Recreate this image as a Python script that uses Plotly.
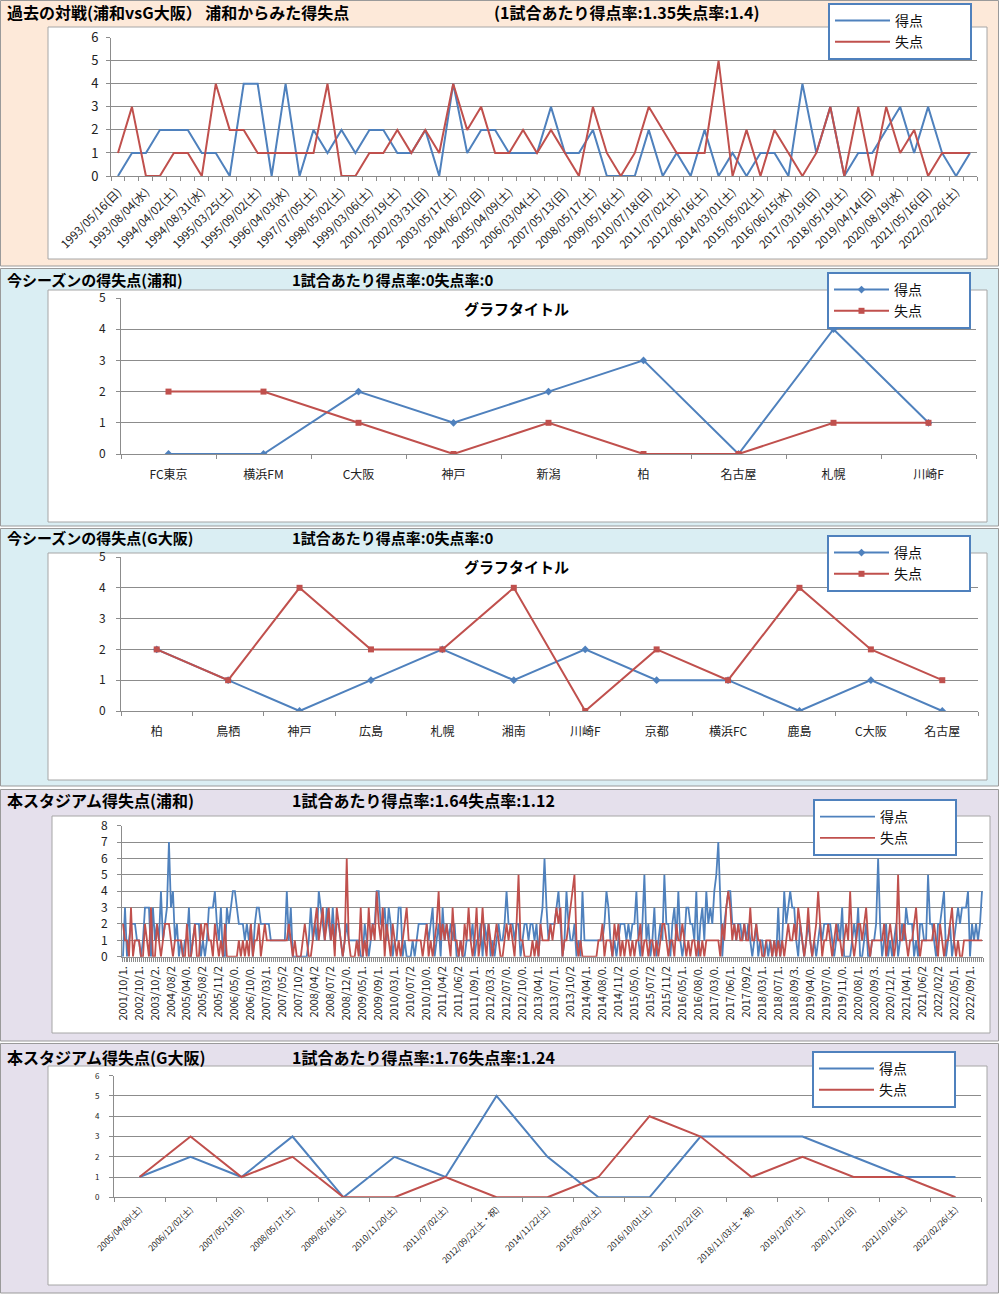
import plotly.graph_objects as go

FONT = "Noto Sans CJK JP"
BLUE = "#4F81BD"
RED = "#C0504D"
GRID = "#8C8C8C"
W, H = 1000, 1295

# ---------------- Panel 1: past matches (Urawa vs G-Osaka) ----------------
p1_labels = ["1993/05/16(日)", "1993/08/04(水)", "1994/04/02(土)", "1994/08/31(水)", "1995/03/25(土)",
             "1995/09/02(土)", "1996/04/03(水)", "1997/07/05(土)", "1998/05/02(土)", "1999/03/06(土)",
             "2001/05/19(土)", "2002/03/31(日)", "2003/05/17(土)", "2004/06/20(日)", "2005/04/09(土)",
             "2006/03/04(土)", "2007/05/13(日)", "2008/05/17(土)", "2009/05/16(土)", "2010/07/18(日)",
             "2011/07/02(土)", "2012/06/16(土)", "2014/03/01(土)", "2015/05/02(土)", "2016/06/15(水)",
             "2017/03/19(日)", "2018/05/19(土)", "2019/04/14(日)", "2020/08/19(水)", "2021/05/16(日)",
             "2022/02/26(土)"]
p1_scored = [0, 1, 1, 2, 2, 2, 1, 1, 0, 4, 4, 0, 4, 0, 2, 1, 2, 1, 2, 2, 1, 1, 2, 0, 4, 1, 2, 2,
             1, 1, 1, 3, 1, 1, 2, 0, 0, 0, 2, 0, 1, 0, 2, 0, 1, 0, 1, 1, 0, 4, 1, 3, 0, 1, 1, 2, 3, 1, 3, 1, 0, 1]
p1_conceded = [1, 3, 0, 0, 1, 1, 0, 4, 2, 2, 1, 1, 1, 1, 1, 4, 0, 0, 1, 1, 2, 1, 2, 1, 4, 2, 3, 1,
               1, 2, 1, 2, 1, 0, 3, 1, 0, 1, 3, 2, 1, 1, 1, 5, 0, 2, 0, 2, 1, 0, 1, 3, 0, 3, 0, 3, 1, 2, 0, 1, 1, 1]

# ---------------- Panel 2: this season (Urawa) ----------------
p2_teams = ["FC東京", "横浜FM", "C大阪", "神戸", "新潟", "柏", "名古屋", "札幌", "川崎F"]
p2_scored = [0, 0, 2, 1, 2, 3, 0, 4, 1]
p2_conceded = [2, 2, 1, 0, 1, 0, 0, 1, 1]

# ---------------- Panel 3: this season (G-Osaka) ----------------
p3_teams = ["柏", "鳥栖", "神戸", "広島", "札幌", "湘南", "川崎F", "京都", "横浜FC", "鹿島", "C大阪", "名古屋"]
p3_scored = [2, 1, 0, 1, 2, 1, 2, 1, 1, 0, 1, 0]
p3_conceded = [2, 1, 4, 2, 2, 4, 0, 2, 1, 4, 2, 1]

# ---------------- Panel 4: this stadium (Urawa) ----------------
p4_labels = ["2001/10/1.", "2002/10/1.", "2003/10/2.", "2004/08/2", "2005/04/0.", "2005/08/2", "2005/11/2",
             "2006/05/0.", "2006/10/0.", "2007/03/1.", "2007/05/2", "2007/10/2", "2008/04/2", "2008/07/2",
             "2008/12/0.", "2009/05/1.", "2009/09/1.", "2010/03/1.", "2010/07/2", "2010/10/0.", "2011/04/2",
             "2011/06/2", "2011/09/1.", "2012/03/3.", "2012/07/0.", "2012/10/0.", "2013/04/1.", "2013/07/1.",
             "2013/10/2", "2014/04/1.", "2014/08/0.", "2014/11/2", "2015/05/0.", "2015/07/2", "2015/11/2",
             "2016/05/1.", "2016/08/0.", "2017/03/0.", "2017/06/1.", "2017/09/2", "2018/03/1.", "2018/07/1.",
             "2018/09/3.", "2019/04/0.", "2019/07/0.", "2019/11/0.", "2020/08/1.", "2020/09/3.", "2020/12/1.",
             "2021/04/1.", "2021/06/2", "2022/02/2", "2022/05/1.", "2022/09/1."]
p4_label_step = 8
p4_scored = [
    0, 3, 0, 1, 2, 2, 2, 1, 1, 0, 1, 3, 3, 3, 0, 3, 1, 2, 1, 4, 1, 2, 3, 7, 3, 4, 1, 2, 0, 1,
    0, 1, 1, 3, 0, 1, 2, 2, 2, 0, 1, 0, 1, 3, 3, 3, 4, 2, 1, 3, 0, 0, 3, 2, 3, 4, 4, 3, 2, 2,
    2, 1, 2, 1, 2, 0, 2, 3, 3, 2, 2, 2, 2, 2, 1, 1, 1, 1, 1, 1, 1, 1, 4, 1, 3, 0, 0, 0, 0, 0,
    0, 0, 0, 1, 3, 1, 2, 1, 4, 3, 2, 1, 3, 2, 1, 3, 1, 2,
    2, 1, 0, 1, 2, 1, 1, 1, 1, 1, 1, 0, 0, 2, 1, 0, 1, 2, 2, 4, 4, 2, 2, 3, 1, 3, 2, 0, 1, 1,
    3, 3, 0, 1, 0, 0, 0, 1, 0, 1, 2, 2, 2, 2, 2, 1, 2, 3, 0, 1, 2, 0, 3, 1, 2, 1, 2, 1, 2, 0,
    0, 1, 0, 0, 1, 1, 1, 2, 0, 1, 1, 2, 0, 2, 1, 2, 0, 1, 0, 1, 2, 1, 1, 2, 4, 2, 2, 2, 1, 2,
    2, 0, 1, 2, 2, 1, 2, 2, 1, 2, 0, 2, 3, 6, 3, 1, 2, 2,
    2, 3, 4, 2, 0, 1, 4, 2, 1, 1, 2, 0, 1, 0, 4, 1, 1, 1, 1, 1, 1, 1, 1, 1, 1, 2, 4, 3, 1, 0,
    1, 0, 1, 2, 2, 2, 1, 2, 1, 2, 2, 4, 1, 0, 2, 5, 1, 2, 0, 1, 3, 0, 1, 2, 1, 5, 2, 2, 0, 2,
    3, 1, 4, 1, 0, 1, 3, 3, 2, 2, 1, 4, 0, 2, 3, 1, 4, 2, 3, 2, 4, 5, 7, 3, 0, 2, 3, 4, 4, 2,
    2, 1, 2, 2, 1, 2, 1, 2, 1, 0, 1, 2, 0, 1, 1, 0, 1, 0,
    1, 0, 1, 0, 3, 0, 1, 4, 2, 3, 4, 3, 3, 1, 0, 2, 1, 0, 1, 2, 1, 0, 1, 0, 1, 2, 1, 2, 2, 2,
    2, 1, 0, 1, 2, 1, 3, 0, 0, 0, 0, 1, 2, 1, 3, 0, 0, 1, 2, 0, 0, 1, 1, 2, 6, 2, 0, 1, 2, 0,
    1, 0, 1, 2, 0, 1, 2, 1, 3, 2, 2, 2, 0, 1, 0, 2, 2, 1, 1, 5, 2, 2, 1, 0, 2, 2, 3, 4, 0, 1,
    2, 0, 1, 2, 3, 2, 3, 3, 3, 4, 0, 2, 1, 2, 1, 2, 4]
p4_conceded = [
    2, 1, 1, 0, 3, 0, 1, 1, 1, 0, 0, 2, 1, 0, 3, 0, 0, 2, 1, 0, 1, 2, 2, 2, 1, 0, 1, 1, 1, 1,
    0, 0, 2, 0, 0, 1, 2, 0, 0, 2, 1, 2, 2, 1, 1, 0, 2, 1, 0, 1, 0, 2, 0, 0, 0, 0, 0, 0, 1, 0,
    1, 0, 1, 0, 2, 0, 1, 1, 2, 0, 1, 2, 1, 1, 1, 1, 1, 1, 1, 1, 1, 1, 1, 2, 1, 0, 1, 0, 0, 0,
    1, 2, 1, 0, 0, 1, 2, 3, 1, 2, 3, 1, 2, 3, 1, 2, 0, 3,
    2, 1, 0, 1, 6, 1, 0, 0, 0, 1, 0, 3, 0, 1, 0, 3, 1, 2, 1, 4, 2, 1, 3, 0, 2, 1, 0, 2, 1, 0,
    1, 0, 1, 2, 3, 1, 1, 1, 1, 1, 1, 1, 0, 1, 2, 0, 1, 0, 1, 2, 4, 1, 2, 1, 2, 1, 0, 3, 1, 1,
    0, 1, 0, 2, 1, 3, 1, 0, 1, 3, 0, 1, 3, 1, 0, 2, 1, 0, 1, 2, 1, 0, 0, 1, 2, 1, 2, 1, 0, 2,
    5, 1, 1, 0, 0, 0, 0, 1, 0, 1, 0, 2, 1, 1, 1, 1, 2, 1,
    2, 3, 2, 3, 0, 1, 1, 2, 3, 4, 5, 1, 0, 1, 0, 0, 0, 0, 0, 0, 0, 0, 1, 1, 2, 0, 1, 1, 1, 0,
    2, 1, 2, 0, 1, 0, 1, 1, 0, 1, 0, 1, 1, 2, 0, 1, 1, 0, 1, 1, 0, 1, 0, 1, 2, 2, 1, 0, 1, 1,
    0, 2, 1, 1, 2, 1, 0, 1, 0, 1, 1, 0, 1, 0, 1, 0, 1, 1, 1, 1, 1, 1, 1, 0, 2, 1, 3, 4, 3, 1,
    2, 1, 2, 1, 1, 2, 1, 1, 3, 1, 1, 2, 1, 1, 0, 0, 1, 1,
    1, 0, 1, 0, 1, 0, 1, 0, 1, 2, 1, 1, 2, 1, 3, 2, 1, 0, 1, 3, 1, 0, 1, 2, 4, 2, 0, 1, 1, 2,
    1, 0, 1, 2, 1, 1, 0, 1, 2, 1, 4, 1, 0, 1, 2, 2, 1, 2, 3, 1, 0, 1, 1, 1, 1, 1, 1, 2, 0, 1,
    2, 1, 0, 1, 5, 1, 1, 2, 1, 0, 1, 1, 2, 3, 1, 0, 1, 1, 1, 1, 1, 1, 2, 1, 0, 2, 1, 0, 1, 1,
    2, 3, 1, 0, 1, 0, 0, 1, 1, 1, 1, 1, 1, 1, 1, 1, 1]

# ---------------- Panel 5: this stadium (G-Osaka) ----------------
p5_labels = ["2005/04/09(土)", "2006/12/02(土)", "2007/05/13(日)", "2008/05/17(土)", "2009/05/16(土)",
             "2010/11/20(土)", "2011/07/02(土)", "2012/09/22(土・祝)", "2014/11/22(土)", "2015/05/02(土)",
             "2016/10/01(土)", "2017/10/22(日)", "2018/11/03(土・祝)", "2019/12/07(土)", "2020/11/22(日)",
             "2021/10/16(土)", "2022/02/26(土)"]
p5_scored = [1, 2, 1, 3, 0, 2, 1, 5, 2, 0, 0, 3, 3, 3, 2, 1, 1]
p5_conceded = [1, 3, 1, 2, 0, 0, 1, 0, 0, 1, 4, 3, 1, 2, 1, 1, 0]

titles = [
    ("過去の対戦(浦和vsG大阪） 浦和からみた得失点", "(1試合あたり得点率:1.35失点率:1.4)"),
    ("今シーズンの得失点(浦和)", "1試合あたり得点率:0失点率:0"),
    ("今シーズンの得失点(G大阪)", "1試合あたり得点率:0失点率:0"),
    ("本スタジアム得失点(浦和)", "1試合あたり得点率:1.64失点率:1.12"),
    ("本スタジアム得失点(G大阪)", "1試合あたり得点率:1.76失点率:1.24"),
]
chart_title = "グラフタイトル"
names = ["得点", "失点"]

assert len(p1_scored) == len(p1_conceded) == 62
assert len(p4_scored) == len(p4_conceded) == 431

# ---------------- geometry helpers (pixels -> paper) ----------------
def px(x):
    return x / W

def py(y):
    return 1 - y / H

def xdom(a, b):
    return [px(a), px(b)]

def ydom(top, bottom):
    return [py(bottom), py(top)]

fig = go.Figure()
PAD = "\u3000\u3000\u3000"

def add_pair(xs, s, c, n, lw=2, markers=False):
    xa = "x" if n == 1 else f"x{n}"
    ya = "y" if n == 1 else f"y{n}"
    lg = "legend" if n == 1 else f"legend{n}"
    mode = "lines+markers" if markers else "lines"
    fig.add_trace(go.Scatter(x=xs, y=s, mode=mode, name=names[0] + PAD, xaxis=xa, yaxis=ya, legend=lg,
                             line=dict(color=BLUE, width=lw),
                             marker=dict(symbol="diamond", size=6, color=BLUE)))
    fig.add_trace(go.Scatter(x=xs, y=c, mode=mode, name=names[1] + PAD, xaxis=xa, yaxis=ya, legend=lg,
                             line=dict(color=RED, width=lw),
                             marker=dict(symbol="square", size=6, color=RED)))

add_pair(list(range(len(p1_scored))), p1_scored, p1_conceded, 1)
add_pair(p2_teams, p2_scored, p2_conceded, 2, lw=2, markers=True)
add_pair(p3_teams, p3_scored, p3_conceded, 3, lw=2, markers=True)
add_pair(list(range(len(p4_scored))), p4_scored, p4_conceded, 4, lw=1.8)
add_pair(p5_labels, p5_scored, p5_conceded, 5)

def yaxis(n, dom, ymax, fsize=12, standoff=5):
    return dict(domain=dom, anchor="x" if n == 1 else f"x{n}", range=[0, ymax], dtick=1,
                showgrid=True, gridcolor=GRID, gridwidth=1, zeroline=False,
                showline=True, linecolor=GRID, linewidth=1, ticks="outside", ticklen=4,
                tickcolor=GRID, tickfont=dict(family=FONT, size=fsize, color="#222222"),
                ticklabelstandoff=standoff, fixedrange=True, automargin=False)

def minor_boundaries():
    return dict(tickmode="linear", tick0=-0.5, dtick=1, ticks="outside", ticklen=4,
                tickcolor=GRID, showgrid=False)

def cat_axis(n, dom, ncat, fsize=12, angle=0, standoff=10):
    return dict(domain=dom, anchor=f"y{n}", type="category", range=[-0.5, ncat - 0.5],
                tickson="boundaries", ticks="outside", ticklen=4, tickcolor=GRID, showgrid=False,
                zeroline=False, showline=True, linecolor=GRID, tickangle=angle,
                tickfont=dict(family=FONT, size=fsize, color="#222222"), ticklabelstandoff=standoff,
                fixedrange=True, automargin=False)

layout = dict(
    width=W, height=H, autosize=False, margin=dict(l=0, r=0, t=0, b=0, pad=0, autoexpand=False),
    paper_bgcolor="white", plot_bgcolor="rgba(0,0,0,0)", showlegend=True,
    font=dict(family=FONT, color="#222222"),
)

# Panel 1 axes
layout["xaxis"] = dict(domain=xdom(111, 977), anchor="y", range=[-0.5, len(p1_scored) - 0.5],
                       tickmode="array", tickvals=list(range(0, len(p1_scored), 2)), ticktext=p1_labels,
                       tickangle=-45, tickfont=dict(family=FONT, size=11.5, color="#222222"),
                       showgrid=False, zeroline=False, showline=True, linecolor=GRID, ticks="",
                       minor=minor_boundaries(), ticklabelstandoff=4, fixedrange=True, automargin=False)
layout["yaxis"] = yaxis(1, ydom(37.7, 176), 6, fsize=13)

# Panel 2 / 3 axes
layout["xaxis2"] = cat_axis(2, xdom(121, 976), len(p2_teams))
layout["yaxis2"] = yaxis(2, ydom(298, 454), 5, fsize=12, standoff=8)
layout["xaxis3"] = cat_axis(3, xdom(121, 978), len(p3_teams))
layout["yaxis3"] = yaxis(3, ydom(557, 711), 5, fsize=12, standoff=8)

# Panel 4 axes
layout["xaxis4"] = dict(domain=xdom(122, 983), anchor="y4", range=[-0.5, len(p4_scored) - 0.5],
                        tickmode="array", tickvals=list(range(0, len(p4_scored), p4_label_step))[:len(p4_labels)],
                        ticktext=p4_labels, tickangle=-90,
                        tickfont=dict(family=FONT, size=11, color="#222222"),
                        showgrid=False, zeroline=False, showline=True, linecolor=GRID, ticks="",
                        minor=minor_boundaries(), ticklabelstandoff=4, fixedrange=True, automargin=False)
layout["yaxis4"] = yaxis(4, ydom(825.7, 956.7), 8, fsize=12, standoff=7)

# Panel 5 axes
layout["xaxis5"] = cat_axis(5, xdom(114, 981), len(p5_labels), fsize=8.5, angle=-45, standoff=3)
layout["yaxis5"] = yaxis(5, ydom(1075.7, 1197.3), 6, fsize=8, standoff=8)

# Legends
legend_pos = [(828, 3), (827, 272), (827, 535), (813, 799), (812, 1051)]
for i, (lx, ly) in enumerate(legend_pos, start=1):
    key = "legend" if i == 1 else f"legend{i}"
    layout[key] = dict(x=px(lx), y=py(ly), xanchor="left", yanchor="top", bgcolor="white",
                       bordercolor=BLUE, borderwidth=2, itemwidth=55, tracegroupgap=0,
                       font=dict(family=FONT, size=14, color="#111111"))

# Background panels and chart boxes
panels = [(0, 0, 998, 266, "#FDE9D9"), (0, 268, 998, 526, "#DAEEF3"), (0, 528, 998, 786, "#DAEEF3"),
          (0, 789, 998, 1041, "#E5E0EC"), (0, 1043, 998, 1293, "#E5E0EC")]
boxes = [(48, 27, 987, 259), (48, 290, 987, 522), (48, 553, 987, 780), (52, 816, 990, 1033),
         (48, 1066, 987, 1285)]
shapes = []
for x0, y0, x1, y1, col in panels:
    shapes.append(dict(type="rect", xref="paper", yref="paper", x0=px(x0 + 0.5), x1=px(x1 + 0.5),
                       y0=py(y1), y1=py(y0 + 0.5), fillcolor=col, line=dict(color="#9A9A9A", width=1),
                       layer="below"))
for x0, y0, x1, y1 in boxes:
    shapes.append(dict(type="rect", xref="paper", yref="paper", x0=px(x0), x1=px(x1),
                       y0=py(y1), y1=py(y0), fillcolor="white", line=dict(color="#A6A6A6", width=1),
                       layer="below"))
layout["shapes"] = shapes

# Titles
title_pos = [((5, 12, 16), (492, 12, 16)), ((5, 279, 15), (290, 279, 15)),
             ((5, 537, 15), (290, 537, 15)), ((5, 800, 16), (290, 800, 16)),
             ((5, 1057, 16), (290, 1057, 16))]
ann = []
for (left, right), ((lx, ly, ls), (rx, ry, rs)) in zip(titles, title_pos):
    ann.append(dict(text=f"<b>{left}</b>", x=px(lx), y=py(ly), xref="paper", yref="paper",
                    xanchor="left", yanchor="middle", showarrow=False,
                    font=dict(family=FONT, size=ls, color="black")))
    ann.append(dict(text=f"<b>{right}</b>", x=px(rx), y=py(ry), xref="paper", yref="paper",
                    xanchor="left", yanchor="middle", showarrow=False,
                    font=dict(family=FONT, size=rs, color="black")))
for cy in (308, 566):
    ann.append(dict(text=f"<b>{chart_title}</b>", x=px(516), y=py(cy), xref="paper", yref="paper",
                    xanchor="center", yanchor="middle", showarrow=False,
                    font=dict(family=FONT, size=15, color="black")))
layout["annotations"] = ann

fig.update_layout(**layout)
fig.write_html("out.html", config={"displayModeBar": False},
               post_script="document.body.style.margin='0';document.body.style.overflow='hidden';")
